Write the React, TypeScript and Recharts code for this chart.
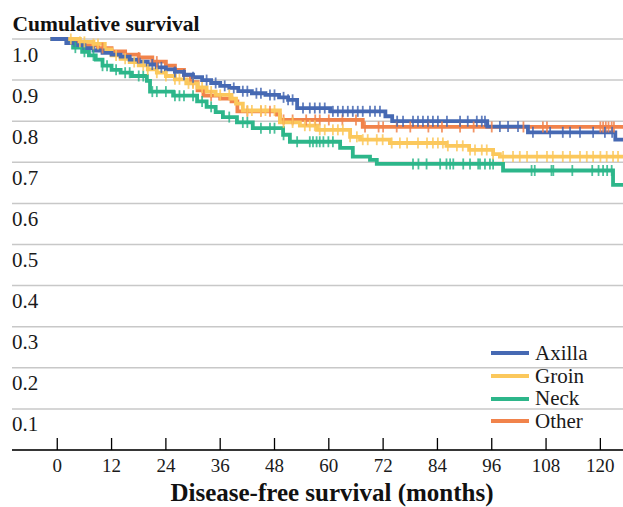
import React from "react"
import {
  ComposedChart, Line, Scatter, XAxis, YAxis, CartesianGrid, Legend,
} from "recharts"

// Kaplan-Meier step points, [months, cumulative survival]
const AXILLA: [number, number][] = [
  [-1.5, 1], [2, 0.99], [4, 0.985], [6, 0.978], [8, 0.972], [10, 0.966], [12, 0.962],
  [14, 0.957], [16, 0.95], [18, 0.945], [20, 0.938], [22, 0.931], [24, 0.926], [26, 0.92],
  [28, 0.913], [30, 0.907], [32, 0.9], [34, 0.893], [36, 0.886], [38, 0.881], [40, 0.873],
  [43, 0.868], [46, 0.864], [49, 0.858], [51, 0.852], [53, 0.832], [60.3, 0.824],
  [72.5, 0.812], [74, 0.8], [95, 0.787], [104, 0.773], [123.3, 0.755], [125, 0.755],
]
const GROIN: [number, number][] = [
  [-1.5, 1], [5, 0.993], [8, 0.988], [10.5, 0.975], [12, 0.96], [14, 0.952], [16, 0.944],
  [18, 0.936], [20, 0.926], [22, 0.918], [24, 0.91], [26, 0.902], [28.5, 0.892], [31, 0.882],
  [33, 0.872], [35, 0.864], [38.5, 0.855], [39.5, 0.843], [41, 0.826], [49.2, 0.797],
  [53.6, 0.789], [57.4, 0.779], [64.7, 0.762], [66.9, 0.755], [73.5, 0.747], [86, 0.74],
  [91, 0.73], [96.3, 0.72], [97.8, 0.714], [125, 0.714],
]
const NECK: [number, number][] = [
  [-1.5, 1], [2.5, 0.99], [3.5, 0.979], [5.5, 0.969], [7, 0.96], [8.5, 0.95], [10, 0.935],
  [12, 0.925], [14, 0.918], [16.5, 0.91], [19.8, 0.898], [20.5, 0.872], [25.6, 0.862],
  [30.9, 0.848], [33, 0.835], [35, 0.822], [36.6, 0.81], [39.7, 0.797], [43.2, 0.783],
  [49.9, 0.767], [51.4, 0.75], [62.5, 0.735], [65.3, 0.714], [69.1, 0.706], [70.6, 0.696],
  [98.5, 0.68], [122.8, 0.645], [125, 0.645],
]
const OTHER: [number, number][] = [
  [-1.5, 1], [3, 0.993], [6, 0.985], [9, 0.978], [12, 0.97], [15, 0.962], [18, 0.955],
  [21, 0.945], [24, 0.935], [26, 0.925], [28, 0.912], [29.5, 0.895], [31, 0.875],
  [32.3, 0.862], [36, 0.855], [38.5, 0.848], [39.8, 0.824], [48.5, 0.816], [49.2, 0.803],
  [67.5, 0.786], [125, 0.786],
]

// censored observations (months)
const AXILLA_CENSORED = [
  21, 23, 26, 28, 30, 33, 35, 37, 39, 41, 42, 44, 45, 47, 48, 50, 51, 52, 54.3, 55.8, 56.9,
  58, 59.1, 60.9, 62, 63.1, 64.2, 65.3, 66.4, 67.5, 69.1, 70.2, 71.3, 75.1, 76.4, 78.6, 79.7,
  80.8, 81.9, 83, 84.1, 86.1, 89, 90.7, 92.7, 93.8, 94.5, 97.8, 99.6, 101.8, 105.1, 108.9,
  111.7, 113.3, 115.5, 118.4, 121, 122.6,
]
const GROIN_CENSORED = [
  3, 5, 6, 8, 9, 13, 15, 17, 19, 20, 22, 24, 26, 27, 29, 30, 32, 34, 36, 38, 42, 43, 45, 46,
  48, 50, 52, 54.7, 55.8, 56.9, 58, 59.1, 60.9, 62, 63.1, 64.7, 66.2, 67.5, 68.6, 70.6, 71.9,
  73.9, 75.7, 77.3, 79.7, 81.7, 83, 84.1, 85.2, 86.3, 88.3, 89.6, 91.2, 92.3, 93.8, 94.9,
  96.3, 98.5, 100.7, 102.2, 103.8, 106, 108.2, 109.5, 111.7, 113.3, 115.5, 117, 118.4, 120,
  121.4, 122.8, 123.9,
]
const NECK_CENSORED = [
  4, 6, 8, 10, 11, 13, 15, 16, 18, 19, 21, 22, 24, 26, 27, 28, 30, 32, 34, 38, 41, 42, 45, 47,
  48, 50, 53, 55.8, 56.5, 57.3, 58, 58.8, 59.9, 60.9, 78.6, 79.8, 81.6, 84.6, 86, 86.8, 87.5,
  89.7, 91.2, 93, 93.4, 94.5, 95.6, 96.3, 104.8, 105.5, 109.2, 109.6, 113.8, 118.2, 119.6,
  120.6, 121.5, 122.5,
]
const OTHER_CENSORED = [
  10, 18, 22, 30, 34, 42, 45, 47, 50, 52, 55, 57, 58, 60, 63, 66, 68, 71, 72, 75, 78, 82, 85,
  89, 92, 96, 103, 107.3, 108.2, 120, 120.6, 121.2, 121.8, 122.5, 123,
]

const X_TICKS = [0, 12, 24, 36, 48, 60, 72, 84, 96, 108, 120]
const Y_TICKS = [0, 0.1, 0.2, 0.3, 0.4, 0.5, 0.6, 0.7, 0.8, 0.9, 1.0]

const SERIES = [
  { name: "Axilla", curve: AXILLA, censored: AXILLA_CENSORED, color: "#4669b3" },
  { name: "Groin",  curve: GROIN,  censored: GROIN_CENSORED,  color: "#fbc85c" },
  { name: "Neck",   curve: NECK,   censored: NECK_CENSORED,   color: "#2db68a" },
  { name: "Other",  curve: OTHER,  censored: OTHER_CENSORED,  color: "#f1834b" },
]

const FONT = "'Liberation Serif', 'Times New Roman', serif"

const toPoints = (curve: [number, number][]) => curve.map(([t, s]) => ({ t, s }))

// survival value the step curve holds at time t
const survAt = (curve: [number, number][], t: number) => {
  let s = curve[0][1]
  for (const [ct, cs] of curve) {
    if (ct <= t) s = cs
    else break
  }
  return s
}

const XTick = (props: any) => {
  const { x, y, payload } = props
  return (
    <g>
      <line x1={x} x2={x} y1={y - 12} y2={y} stroke="#000" strokeWidth={1.3} />
      <text x={x} y={y + 21.5} textAnchor="middle" fontFamily={FONT} fontSize={19} fill="#1a1a1a">
        {payload.value}
      </text>
    </g>
  )
}

const YTick = (props: any) => {
  const { y, payload } = props
  if (payload.value === 0) return null
  return (
    <text x={12} y={y + 22.5} textAnchor="start" fontFamily={FONT} fontSize={21} fill="#1a1a1a">
      {payload.value.toFixed(1)}
    </text>
  )
}

const CensorMark = (color: string) => (props: any) => {
  const { cx, cy } = props
  return <line x1={cx} x2={cx} y1={cy - 5.5} y2={cy + 5.5} stroke={color} strokeWidth={1.8} strokeOpacity={0.85} />
}

const LegendBox = () => (
  <div style={{ fontFamily: FONT, fontSize: 21, color: "#1a1a1a" }}>
    {SERIES.map((s) => (
      <div key={s.name} style={{ display: "flex", alignItems: "center", height: 22.7, lineHeight: "22.7px" }}>
        <span style={{ display: "inline-block", width: 38, height: 4, background: s.color, marginRight: 6 }} />
        <span>{s.name}</span>
      </div>
    ))}
  </div>
)

export default function App() {
  const drawOrder = [...SERIES].reverse()
  return (
    <div style={{ position: "absolute", left: 0, top: 0, width: 623, height: 507, background: "#fff" }}>
      <ComposedChart width={623} height={507} margin={{ top: 39, right: 0, bottom: 0, left: 11 }}>
        <CartesianGrid horizontal vertical={false} stroke="#c8c8c8" strokeWidth={1.5} />
        <XAxis
          type="number"
          dataKey="t"
          domain={[-10, 125]}
          ticks={X_TICKS}
          height={57}
          tickSize={0}
          tickMargin={0}
          tickLine={false}
          tick={<XTick />}
          axisLine={{ stroke: "#000", strokeWidth: 1.5 }}
          allowDataOverflow
          label={() => (
            <text x={332} y={501} textAnchor="middle" fontFamily={FONT} fontWeight="bold" fontSize={25} fill="#111">
              Disease-free survival (months)
            </text>
          )}
        />
        <YAxis
          type="number"
          dataKey="s"
          domain={[0, 1]}
          ticks={Y_TICKS}
          width={1}
          axisLine={false}
          tickLine={false}
          tick={<YTick />}
          label={() => (
            <text x={12.5} y={30.5} textAnchor="start" fontFamily={FONT} fontWeight="bold" fontSize={21.5} fill="#111">
              Cumulative survival
            </text>
          )}
        />
        {drawOrder.map((s) => (
          <Line
            key={s.name}
            data={toPoints(s.curve)}
            dataKey="s"
            type="stepAfter"
            stroke={s.color}
            strokeWidth={3.8}
            dot={false}
            activeDot={false}
            legendType="none"
            isAnimationActive={false}
          />
        ))}
        {drawOrder.map((s) => (
          <Scatter
            key={s.name + "-c"}
            data={s.censored.map((t) => ({ t, s: survAt(s.curve, t) }))}
            shape={CensorMark(s.color)}
            legendType="none"
            isAnimationActive={false}
          />
        ))}
        <Legend
          layout="vertical"
          align="center"
          verticalAlign="middle"
          content={() => <LegendBox />}
          wrapperStyle={{ left: 491, top: 342, width: "auto" }}
        />
      </ComposedChart>
    </div>
  )
}
